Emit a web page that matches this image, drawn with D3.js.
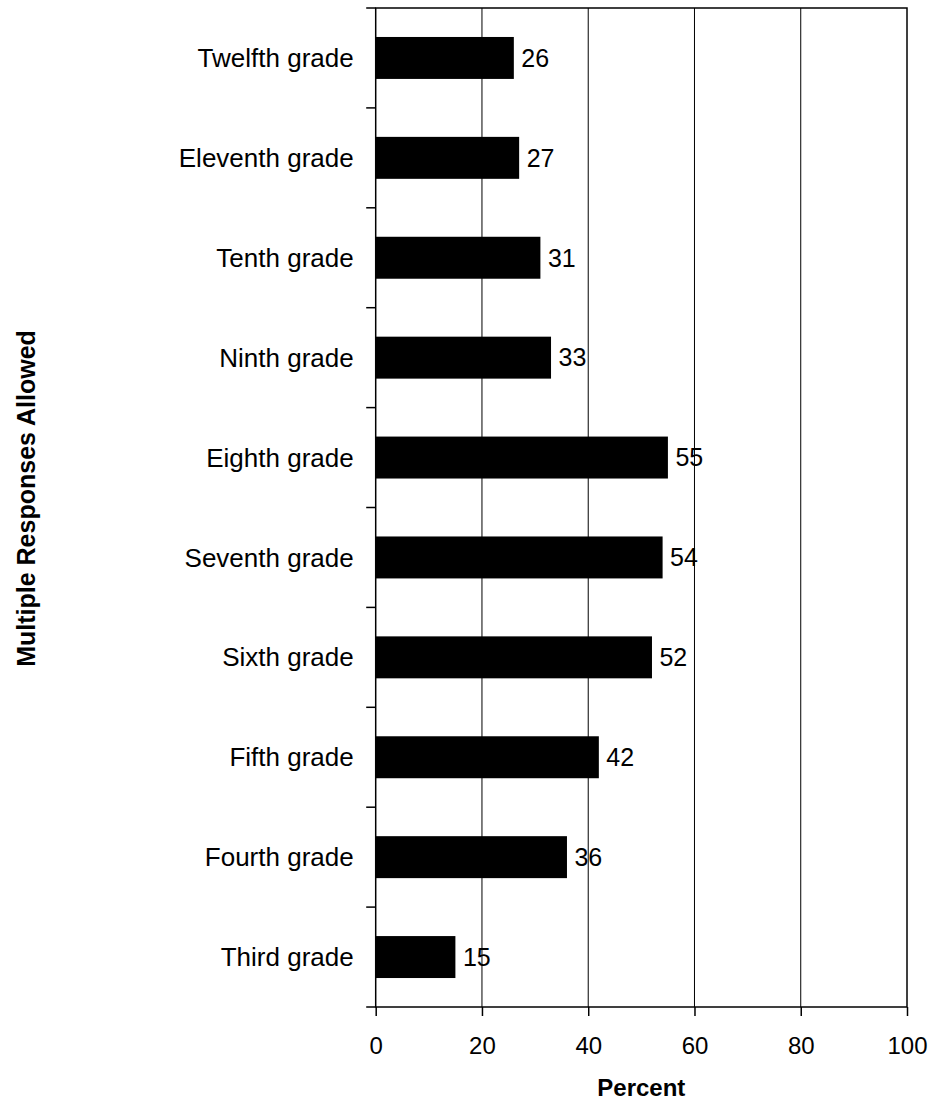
<!DOCTYPE html>
<html>
<head>
<meta charset="utf-8">
<script src="https://cdn.jsdelivr.net/npm/d3@7"></script>
<style>
  html, body { margin: 0; padding: 0; background: #fff; }
  svg { display: block; font-family: Arial, "Liberation Sans", Helvetica, sans-serif; }
</style>
</head>
<body>
<svg id="chart" width="935" height="1101"></svg>
<script>
const categories = ["Third grade", "Fourth grade", "Fifth grade", "Sixth grade", "Seventh grade",
                    "Eighth grade", "Ninth grade", "Tenth grade", "Eleventh grade", "Twelfth grade"];
const values = [15, 36, 42, 52, 54, 55, 33, 31, 27, 26];
const xTicks = [0, 20, 40, 60, 80, 100];
const xTitle = "Percent";
const yTitle = "Multiple Responses Allowed";

const svg = d3.select("#chart");
const pLeft = 375.7, pRight = 907, pTop = 8, pBottom = 1007;

const x = d3.scaleLinear().domain([0, 100]).range([pLeft, pRight]);
const yDomain = categories.slice().reverse();
const y = d3.scaleBand().domain(yDomain).range([pTop, pBottom])
  .paddingInner(0.58).paddingOuter(0.29);
const step = y.step();

const data = categories.map((c, i) => ({ c, v: values[i] }));

// gridlines
svg.append("g").selectAll("line")
  .data(xTicks.filter(t => t > 0 && t < 100))
  .join("line")
  .attr("x1", d => x(d)).attr("x2", d => x(d))
  .attr("y1", pTop).attr("y2", pBottom)
  .attr("stroke", "#000").attr("stroke-width", 1);

// bars
svg.append("g").selectAll("rect")
  .data(data)
  .join("rect")
  .attr("x", x(0))
  .attr("y", d => y(d.c))
  .attr("width", d => x(d.v) - x(0))
  .attr("height", y.bandwidth())
  .attr("fill", "#000");

// plot border
svg.append("rect")
  .attr("x", pLeft).attr("y", pTop)
  .attr("width", pRight - pLeft).attr("height", pBottom - pTop)
  .attr("fill", "none").attr("stroke", "#000").attr("stroke-width", 1.5);

// y category boundary ticks
const bounds = d3.range(categories.length + 1).map(i => pTop + i * step);
svg.append("g").selectAll("line")
  .data(bounds)
  .join("line")
  .attr("x1", pLeft - 9.5).attr("x2", pLeft)
  .attr("y1", d => d).attr("y2", d => d)
  .attr("stroke", "#000").attr("stroke-width", 1.5);

// x axis
const xAxis = d3.axisBottom(x).tickValues(xTicks).tickSize(9).tickPadding(21).tickFormat(d3.format("d"));
const gx = svg.append("g").attr("transform", `translate(0,${pBottom})`).call(xAxis);
gx.select(".domain").remove();
gx.selectAll(".tick line").attr("stroke", "#000").attr("stroke-width", 1.5);
gx.selectAll(".tick text").attr("font-size", 24).attr("fill", "#000")
  .attr("font-family", "Arial, 'Liberation Sans', sans-serif").attr("dy", "0.71em");

// category labels
svg.append("g").selectAll("text")
  .data(data)
  .join("text")
  .attr("x", pLeft - 22)
  .attr("y", d => y(d.c) + y.bandwidth() / 2)
  .attr("dy", "0.35em")
  .attr("text-anchor", "end")
  .attr("font-size", 26)
  .attr("fill", "#000")
  .text(d => d.c);

// value labels
svg.append("g").selectAll("text")
  .data(data)
  .join("text")
  .attr("x", d => x(d.v) + 7.5)
  .attr("y", d => y(d.c) + y.bandwidth() / 2)
  .attr("dy", "0.35em")
  .attr("font-size", 25)
  .attr("fill", "#000")
  .text(d => d.v);

// axis titles
svg.append("text")
  .attr("x", (pLeft + pRight) / 2).attr("y", 1096)
  .attr("text-anchor", "middle")
  .attr("font-size", 24).attr("font-weight", "bold")
  .text(xTitle);

svg.append("text")
  .attr("transform", `translate(35,${(pTop + pBottom) / 2 - 9}) rotate(-90)`)
  .attr("text-anchor", "middle")
  .attr("font-size", 25).attr("font-weight", "bold")
  .text(yTitle);
</script>
</body>
</html>
